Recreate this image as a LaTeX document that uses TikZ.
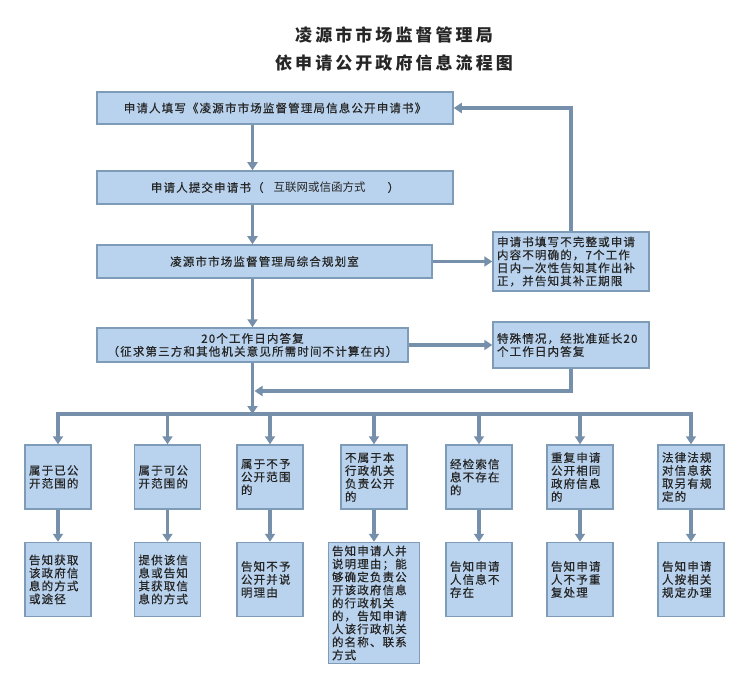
\documentclass[tikz,border=0pt]{standalone}
\usepackage{fontspec}
\newfontfamily\cjk[LetterSpace=10,FakeBold=0.6]{Noto Sans CJK SC}
\newfontfamily\cjkplain{Noto Sans CJK SC}
\newfontfamily\cjktitle[LetterSpace=18]{Noto Sans CJK SC}
\usepackage{xcolor}
\usepackage{tikz}
\usetikzlibrary{arrows.meta,positioning,calc}
\definecolor{boxfill}{HTML}{B9D3EE}
\definecolor{boxline}{HTML}{7E9BB8}
\definecolor{flow}{HTML}{7690AB}

\begin{document}
\begin{tikzpicture}[
    x=1pt, y=-1pt,
    box/.style={rectangle, draw=boxline, fill=boxfill, line width=1.5pt, inner sep=3pt, align=center, text=black!85, font=\cjk\fontsize{11.5}{13}\selectfont},
    wide/.style={box, minimum height=33pt},
    side/.style={box, minimum width=156pt, text width=148pt, align=left},
    case/.style={box, minimum width=66pt, minimum height=64pt, text width=58pt, align=left},
    result/.style={case, minimum height=74pt},
    arrow/.style={->, >={Triangle[width=10pt,length=8pt]}, draw=flow, line width=3.5pt},
    line/.style={draw=flow, line width=3.5pt, line cap=rect}
]
\useasboundingbox (0,0) rectangle (754,676);

% Title
\node[font=\cjktitle\bfseries\fontsize{17}{20}\selectfont, text=black!85] (title1) at (394,35) {凌源市市场监督管理局};
\node[font=\cjktitle\bfseries\fontsize{17}{20}\selectfont, text=black!85] (title2) at (394,63) {依申请公开政府信息流程图};

% Main steps
\node[wide, minimum width=356pt, minimum height=32pt] (apply) at (275,108) {申请人填写《凌源市市场监督管理局信息公开申请书》};
\node[wide, minimum width=356pt] (submit) at (275,187.5) {申请人提交申请书（\hspace{10pt}{\cjkplain 互联网或信函方式}\hspace{22pt}）};
\node[wide, minimum width=335pt] (office) at (264.5,261.5) {凌源市市场监督管理局综合规划室};
\node[wide, minimum width=311pt, minimum height=34pt] (reply) at (252.5,345) {20个工作日内答复\\（征求第三方和其他机关意见所需时间不计算在内）};

% Side boxes
\node[side, minimum height=59pt] (amend) at (571,261.5) {申请书填写不完整或申请\\内容不明确的，7个工作\\日内一次性告知其作出补\\正，并告知其补正期限};
\node[side, minimum height=46pt] (extend) at (571,345) {特殊情况，经批准延长20\\个工作日内答复};

% Cases
\node[case] (case1) at (58,477) {属于已公\\开范围的};
\node[case] (case2) at (167.5,477) {属于可公\\开范围的};
\node[case] (case3) at (270,477) {属于不予\\公开范围\\的};
\node[case] (case4) at (374,477) {不属于本\\行政机关\\负责公开\\的};
\node[case] (case5) at (479,477) {经检索信\\息不存在\\的};
\node[case] (case6) at (580,477) {重复申请\\公开相同\\政府信息\\的};
\node[case] (case7) at (691,477) {法律法规\\对信息获\\取另有规\\定的};

% Results
\node[result, below=32pt of case1] (res1) {告知获取\\该政府信\\息的方式\\或途径};
\node[result, below=32pt of case2] (res2) {提供该信\\息或告知\\其获取信\\息的方式};
\node[result, below=32pt of case3] (res3) {告知不予\\公开并说\\明理由};
\node[result, below=32pt of case4, minimum width=91pt, text width=84pt, minimum height=121pt] (res4) {告知申请人并\\说明理由；能\\够确定负责公\\开该政府信息\\的行政机关\\的，告知申请\\人该行政机关\\的名称、联系\\方式};
\node[result, below=32pt of case5] (res5) {告知申请\\人信息不\\存在};
\node[result, below=32pt of case6] (res6) {告知申请\\人不予重\\复处理};
\node[result, below=32pt of case7] (res7) {告知申请\\人按相关\\规定办理};

% Connectors
\coordinate (merge) at (254.5,391);
\coordinate (bus) at (252.5,414);
\draw[arrow] (apply.south -| reply.north) -- (submit.north -| reply.north);
\draw[arrow] (submit.south -| reply.north) -- (office.north -| reply.north);
\draw[arrow] (office.south -| reply.north) -- (reply.north);
\draw[arrow] (office.east) -- (office.east -| amend.west);
\draw[arrow] (amend.north) |- (apply.east);
\draw[arrow] (reply.east) -- (extend.west);
\draw[arrow] (extend.south) |- (merge);
\draw[arrow] (reply.south) -- (bus);
\draw[line] (case1.north |- bus) -- (case7.north |- bus);

\draw[arrow] (case1.north |- bus) -- (case1.north);
\draw[arrow] (case2.north |- bus) -- (case2.north);
\draw[arrow] (case3.north |- bus) -- (case3.north);
\draw[arrow] (case4.north |- bus) -- (case4.north);
\draw[arrow] (case5.north |- bus) -- (case5.north);
\draw[arrow] (case6.north |- bus) -- (case6.north);
\draw[arrow] (case7.north |- bus) -- (case7.north);

\draw[arrow] (case1) -- (res1);
\draw[arrow] (case2) -- (res2);
\draw[arrow] (case3) -- (res3);
\draw[arrow] (case4) -- (res4);
\draw[arrow] (case5) -- (res5);
\draw[arrow] (case6) -- (res6);
\draw[arrow] (case7) -- (res7);

\end{tikzpicture}
\end{document}
